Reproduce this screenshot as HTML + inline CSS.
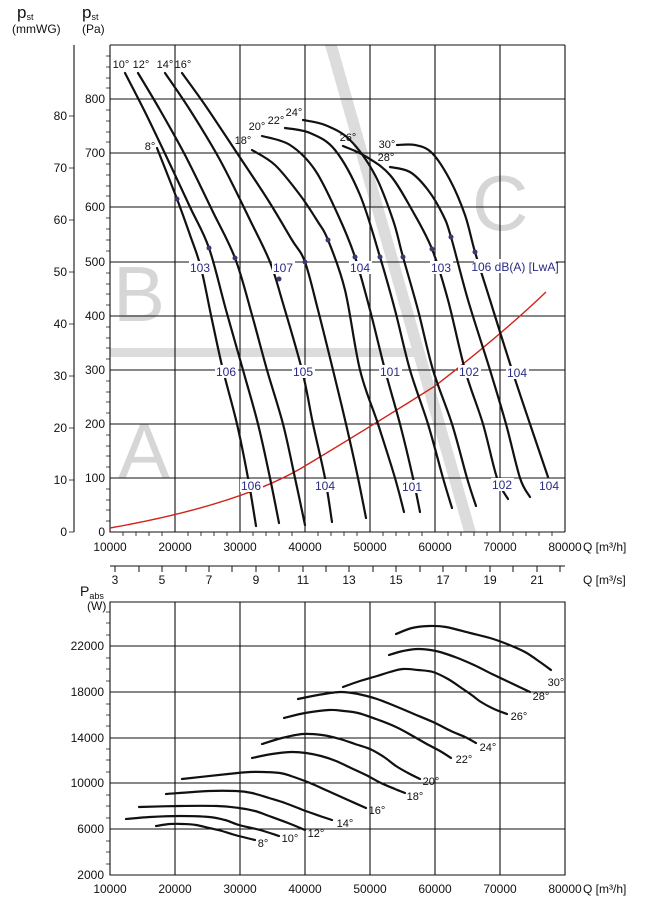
<!DOCTYPE html>
<html><head><meta charset="utf-8"><style>
html,body{margin:0;padding:0;background:#fff;}
svg{display:block;font-family:"Liberation Sans",Arial,sans-serif;}
</style></head><body>
<svg id="s" width="645" height="908" viewBox="0 0 645 908" xmlns="http://www.w3.org/2000/svg">
<polygon points="325,45 337,45 476,532 464,532" fill="#dcdcdc"/>
<rect x="110" y="348" width="305" height="9" fill="#dcdcdc"/>
<text x="113" y="321" font-size="78" fill="#d6d6d6">B</text>
<text x="118" y="478" font-size="78" fill="#d6d6d6">A</text>
<text x="472" y="230" font-size="78" fill="#d6d6d6">C</text>

<g stroke="#111" stroke-width="1.1" fill="none">
<path d="M110,45H565M110,99H565M110,153H565M110,207H565M110,262H565M110,316H565M110,370H565M110,424H565M110,478H565"/>
<path d="M175,45V532M240,45V532M305,45V532M370,45V532M435,45V532M500,45V532M565,45V532"/>
<path d="M110,45V532H565"/>
<path d="M74,45V532"/>
</g>
<g stroke="#111" stroke-width="0.8">
<path d="M106,56H110M106,67H110M106,78H110M106,88H110M106,110H110M106,121H110M106,132H110M106,142H110M106,164H110M106,175H110M106,186H110M106,196H110M106,218H110M106,229H110M106,240H110M106,251H110M106,273H110M106,284H110M106,294H110M106,305H110M106,327H110M106,338H110M106,348H110M106,359H110M106,381H110M106,392H110M106,402H110M106,413H110M106,435H110M106,446H110M106,456H110M106,467H110M106,489H110M106,500H110M106,510H110M106,521H110"/>
<path d="M123,532V536M136,532V536M149,532V536M162,532V536M188,532V536M201,532V536M214,532V536M227,532V536M253,532V536M266,532V536M279,532V536M292,532V536M318,532V536M331,532V536M344,532V536M357,532V536M383,532V536M396,532V536M409,532V536M422,532V536M448,532V536M461,532V536M474,532V536M487,532V536M513,532V536M526,532V536M539,532V536M552,532V536"/>
<path d="M69,116H74M69,168H74M69,220H74M69,272H74M69,324H74M69,376H74M69,428H74M69,480H74M69,532H74"/>
</g>
<g font-size="12" fill="#111">
<text x="17" y="18" font-size="17">p<tspan font-size="9" dy="2">st</tspan></text>
<text x="82" y="18" font-size="17">p<tspan font-size="9" dy="2">st</tspan></text>
<text x="12" y="33">(mmWG)</text>
<text x="82" y="33">(Pa)</text>
<g text-anchor="end">
<text x="105" y="103">800</text><text x="105" y="157">700</text><text x="105" y="211">600</text><text x="105" y="266">500</text><text x="105" y="320">400</text><text x="105" y="374">300</text><text x="105" y="428">200</text><text x="105" y="482">100</text><text x="105" y="536">0</text>
<text x="67" y="120">80</text><text x="67" y="172">70</text><text x="67" y="224">60</text><text x="67" y="276">50</text><text x="67" y="328">40</text><text x="67" y="380">30</text><text x="67" y="432">20</text><text x="67" y="484">10</text><text x="67" y="536">0</text>
</g>
<g text-anchor="middle">
<text x="110" y="551">10000</text><text x="175" y="551">20000</text><text x="240" y="551">30000</text><text x="305" y="551">40000</text><text x="370" y="551">50000</text><text x="435" y="551">60000</text><text x="500" y="551">70000</text><text x="565" y="551">80000</text>
</g>
<text x="583" y="551">Q [m³/h]</text>
</g>

<g stroke="#111" stroke-width="1">
<path d="M110,566H565"/>
<path d="M115,566V572M139,566V572M162,566V572M186,566V572M209,566V572M232,566V572M256,566V572M279,566V572M303,566V572M326,566V572M349,566V572M373,566V572M396,566V572M420,566V572M443,566V572M466,566V572M490,566V572M513,566V572M537,566V572M560,566V572"/>
</g>
<g font-size="12" fill="#111" text-anchor="middle">
<text x="115" y="584">3</text><text x="162" y="584">5</text><text x="209" y="584">7</text><text x="256" y="584">9</text><text x="303" y="584">11</text><text x="349" y="584">13</text><text x="396" y="584">15</text><text x="443" y="584">17</text><text x="490" y="584">19</text><text x="537" y="584">21</text>
</g>
<text x="583" y="584" font-size="12" fill="#111">Q [m³/s]</text>

<path d="M110,528 Q240,505 305,466 T435,386 Q500,336 546,292" fill="none" stroke="#d0241b" stroke-width="1.4"/>

<g class="sm" fill="none" stroke="#111" stroke-width="2.2" stroke-linejoin="round" stroke-linecap="round">
<polyline points="157,148 177,199 190,235 201,268 212,320 223,370 237,424 248,478 256,526"/>
<polyline points="125,73 145,112 168,160 190,207 209,248 226,310 243,370 258,424 270,478 279,523"/>
<polyline points="138,73 160,110 185,155 212,210 235,258 252,315 267,370 283,424 295,478 305,525"/>
<polyline points="165,73 190,110 220,160 250,220 270,262 282,300 302,370 313,424 325,478 332,522"/>
<polyline points="182,73 205,105 235,150 268,200 292,240 305,262 318,310 333,370 346,424 358,478 366,518"/>
<polyline points="252,150 275,165 300,195 318,222 328,240 345,290 360,370 378,424 395,478 404,512"/>
<polyline points="262,136 290,145 315,170 338,215 355,257 370,310 385,370 400,424 413,478 420,512"/>
<polyline points="285,128 310,133 335,150 360,195 380,257 395,310 410,370 428,424 443,478 452,508"/>
<polyline points="303,120 325,125 350,140 375,175 393,220 403,257 418,310 433,370 452,424 467,478 476,506"/>
<polyline points="343,146 365,156 390,175 412,210 432,249 448,300 465,370 483,424 497,478 508,499"/>
<polyline points="390,167 410,172 428,190 443,215 451,237 468,300 490,370 506,424 520,478 530,497"/>
<polyline points="397,145 415,145 432,153 450,180 465,215 475,252 490,300 512,370 530,424 548,477"/>
</g>
<g fill="#3a3a70">
<circle cx="177" cy="199" r="2.5"/><circle cx="209" cy="248" r="2.5"/><circle cx="235" cy="258" r="2.5"/><circle cx="279" cy="279" r="2.5"/><circle cx="305" cy="262" r="2.5"/><circle cx="328" cy="240" r="2.5"/><circle cx="355" cy="257" r="2.5"/><circle cx="380" cy="257" r="2.5"/><circle cx="403" cy="257" r="2.5"/><circle cx="432" cy="249" r="2.5"/><circle cx="451" cy="237" r="2.5"/><circle cx="475" cy="252" r="2.5"/>
</g>
<g fill="#fff">
<rect x="189" y="261" width="23" height="13"/><rect x="272" y="261" width="23" height="13"/><rect x="349" y="261" width="23" height="13"/><rect x="430" y="261" width="23" height="13"/><rect x="474" y="259" width="82" height="14"/>
<rect x="215" y="365" width="23" height="13"/><rect x="292" y="365" width="23" height="13"/><rect x="379" y="365" width="23" height="13"/><rect x="458" y="365" width="23" height="13"/><rect x="506" y="366" width="23" height="13"/>
<rect x="240" y="479" width="23" height="13"/><rect x="314" y="479" width="23" height="13"/><rect x="401" y="480" width="23" height="13"/><rect x="491" y="478" width="23" height="13"/><rect x="538" y="479" width="23" height="13"/>
</g>
<g font-size="12" fill="#2a2a85" text-anchor="middle">
<text x="200" y="272">103</text><text x="283" y="272">107</text><text x="360" y="272">104</text><text x="441" y="272">103</text><text x="515" y="271">106 dB(A) [LwA]</text>
<text x="226" y="376">106</text><text x="303" y="376">105</text><text x="390" y="376">101</text><text x="469" y="376">102</text><text x="517" y="377">104</text>
<text x="251" y="490">106</text><text x="325" y="490">104</text><text x="412" y="491">101</text><text x="502" y="489">102</text><text x="549" y="490">104</text>
</g>
<g font-size="11" fill="#111" text-anchor="middle">
<text x="121" y="68">10°</text><text x="141" y="68">12°</text><text x="165" y="68">14°</text><text x="183" y="68">16°</text>
<text x="150" y="150">8°</text><text x="243" y="144">18°</text><text x="257" y="130">20°</text><text x="276" y="124">22°</text><text x="294" y="116">24°</text><text x="348" y="141">26°</text><text x="387" y="148">30°</text><text x="386" y="161">28°</text>
</g>

<g stroke="#111" stroke-width="1.1" fill="none">
<path d="M110,602H565V875H110Z"/>
<path d="M110,646H565M110,692H565M110,738H565M110,783H565M110,829H565"/>
<path d="M175,602V875M240,602V875M305,602V875M370,602V875M435,602V875M500,602V875"/>
</g>
<g stroke="#111" stroke-width="0.8">
<path d="M106,612H110M106,623H110M106,635H110M106,658H110M106,669H110M106,681H110M106,704H110M106,715H110M106,726H110M106,749H110M106,760H110M106,772H110M106,795H110M106,806H110M106,818H110M106,841H110M106,852H110M106,864H110"/>
</g>
<g font-size="12" fill="#111">
<text x="80" y="596" font-size="14">P<tspan font-size="9" dy="3">abs</tspan></text>
<text x="87" y="610">(W)</text>
<g text-anchor="end">
<text x="104" y="650">22000</text><text x="104" y="696">18000</text><text x="104" y="742">14000</text><text x="104" y="787">10000</text><text x="104" y="833">6000</text><text x="104" y="879">2000</text>
</g>
<g text-anchor="middle">
<text x="110" y="893">10000</text><text x="175" y="893">20000</text><text x="240" y="893">30000</text><text x="305" y="893">40000</text><text x="370" y="893">50000</text><text x="435" y="893">60000</text><text x="500" y="893">70000</text><text x="565" y="893">80000</text>
</g>
<text x="583" y="893">Q [m³/h]</text>
</g>
<g class="sm" fill="none" stroke="#111" stroke-width="2.2" stroke-linejoin="round" stroke-linecap="round">
<polyline points="156,826 170,824 183,824 196,825 209,828 222,831 235,835 255,840"/>
<polyline points="126,819 150,817 180,816 209,817 225,820 239,825 260,830 279,836"/>
<polyline points="139,807 180,806 217,806 239,808 255,811 269,816 288,823 305,830"/>
<polyline points="166,794 209,791 236,791 252,793 269,798 285,803 303,810 320,816 332,820"/>
<polyline points="182,779 228,774 250,772 263,772 280,773 291,776 310,783 328,791 348,800 366,808"/>
<polyline points="252,758 272,754 291,752 306,753 321,756 336,761 351,768 366,775 381,783 395,789 405,793"/>
<polyline points="262,744 282,738 303,734 322,735 340,739 355,744 370,749 384,757 396,766 408,773 420,779"/>
<polyline points="284,718 305,713 329,710 344,711 358,713 376,719 396,727 411,735 425,743 440,751 451,758"/>
<polyline points="298,699 318,695 340,692 358,694 377,699 395,706 414,714 433,722 451,731 465,737 476,743"/>
<polyline points="343,687 360,681 377,676 390,672 403,669 418,670 433,672 448,679 463,689 473,696 481,702 494,709 507,714"/>
<polyline points="389,655 403,651 418,649 436,651 455,657 474,665 492,674 511,683 530,692"/>
<polyline points="396,634 412,628 429,626 446,627 470,633 490,638 507,644 525,652 540,662 551,670"/>
</g>
<g font-size="11" fill="#111" text-anchor="middle">
<text x="263" y="847">8°</text><text x="290" y="842">10°</text><text x="316" y="837">12°</text><text x="345" y="827">14°</text><text x="377" y="814">16°</text><text x="415" y="800">18°</text><text x="431" y="785">20°</text><text x="464" y="763">22°</text><text x="488" y="751">24°</text><text x="519" y="720">26°</text><text x="541" y="700">28°</text><text x="556" y="686">30°</text>
</g>
</svg>
<script>
(function(){
var NS="http://www.w3.org/2000/svg";
var pls=document.querySelectorAll("g.sm polyline");
for(var i=0;i<pls.length;i++){
 var pl=pls[i];
 var nums=pl.getAttribute("points").trim().split(/[\s,]+/).map(Number);
 var p=[];for(var j=0;j<nums.length;j+=2)p.push([nums[j],nums[j+1]]);
 var d="M"+p[0][0]+","+p[0][1];
 for(var k=0;k<p.length-1;k++){
  var p0=p[k-1]||p[k],p1=p[k],p2=p[k+1],p3=p[k+2]||p[k+1];
  var c1x=p1[0]+(p2[0]-p0[0])/6,c1y=p1[1]+(p2[1]-p0[1])/6;
  var c2x=p2[0]-(p3[0]-p1[0])/6,c2y=p2[1]-(p3[1]-p1[1])/6;
  d+="C"+c1x.toFixed(1)+","+c1y.toFixed(1)+" "+c2x.toFixed(1)+","+c2y.toFixed(1)+" "+p2[0]+","+p2[1];
 }
 var path=document.createElementNS(NS,"path");
 path.setAttribute("d",d);
 pl.parentNode.replaceChild(path,pl);
}
})();
</script>
</body></html>
